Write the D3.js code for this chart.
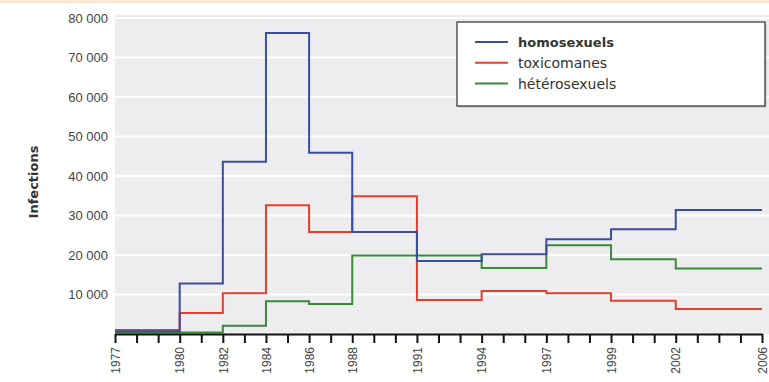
<!DOCTYPE html>
<html>
<head>
<meta charset="utf-8">
<script src="https://cdn.jsdelivr.net/npm/d3@7"></script>
<style>
  body { margin: 0; background: #fff; }
  svg { display: block; font-family: "DejaVu Sans", sans-serif; }
</style>
</head>
<body>
<svg id="chart" width="769" height="382"></svg>
<script>
// tick slots along the x axis, one per year slot (only some are labelled)
const tickLabels = ["1977","","","1980","","1982","","1984","","1986","","1988","","","1991","","","1994","","","1997","","","1999","","","2002","","","","2006"]
// period boundaries for the steps
const periods = ["1977","1980","1982","1984","1986","1988","1991","1994","1997","1999","2002","2006"]

// values per period (last period 2002-2006)
const homosexuels  = [700, 12800, 43600, 76200, 45900, 25800, 18500, 20200, 24000, 26500, 31400]
const toxicomanes  = [1000, 5300, 10300, 32600, 25800, 34900, 8600, 10900, 10300, 8400, 6300]
const heterosexuels = [300, 400, 2100, 8300, 7600, 19900, 19900, 16700, 22500, 18900, 16600]

const seriesNames = ["homosexuels", "toxicomanes", "hétérosexuels"]
const seriesColors = ["#3a4e9e", "#e2402c", "#3b8a3a"]
const yTicks = [10000, 20000, 30000, 40000, 50000, 60000, 70000, 80000]

const svg = d3.select("#chart")
const W = 769, H = 382

// plot frame
const plotLeft = 115, plotRight = 762, plotTop = 18, plotBottom = 334

svg.append("rect").attr("x", 0).attr("y", 0).attr("width", W).attr("height", 3).attr("fill", "#fce8d2")
svg.append("rect")
  .attr("x", plotLeft).attr("y", 15)
  .attr("width", W - plotLeft).attr("height", plotBottom - 15)
  .attr("fill", "#ededef")

const x = d3.scaleLinear().domain([0, tickLabels.length - 1]).range([plotLeft, plotRight])
const y = d3.scaleLinear().domain([0, 80000]).range([plotBottom, plotTop])

const fr = d3.formatLocale({decimal: ",", thousands: " ", grouping: [3], currency: ["", " €"]})
const fmt = fr.format(",")

// gridlines
svg.append("g")
  .selectAll("line")
  .data(yTicks)
  .join("line")
    .attr("x1", plotLeft).attr("x2", W)
    .attr("y1", d => y(d)).attr("y2", d => y(d))
    .attr("stroke", "#fff")
    .attr("stroke-width", 2)

// y axis labels only (no line)
const yAxis = svg.append("g")
  .attr("transform", "translate(" + plotLeft + ",0)")
  .call(d3.axisLeft(y).tickValues(yTicks).tickFormat(fmt).tickSize(0).tickPadding(7))
yAxis.select(".domain").remove()
yAxis.selectAll("text")
  .attr("fill", "#444")
  .style("font-size", "13px")

svg.append("text")
  .attr("transform", "translate(33,182) rotate(-90)")
  .attr("text-anchor", "middle")
  .attr("dy", "0.35em")
  .attr("fill", "#333")
  .style("font-size", "13px")
  .style("font-weight", "bold")
  .text("Infections")

// step lines
const line = d3.line()
  .curve(d3.curveStepAfter)
  .x(d => x(tickLabels.indexOf(d.p)))
  .y(d => y(d.v))

const allSeries = [homosexuels, toxicomanes, heterosexuels]
// draw green first, then red, then blue on top
const order = [2, 1, 0]
order.forEach(function(k) {
  const vals = allSeries[k]
  const pts = periods.map((p, i) => ({p: p, v: vals[Math.min(i, vals.length - 1)]}))
  svg.append("path")
    .attr("d", line(pts))
    .attr("fill", "none")
    .attr("stroke", seriesColors[k])
    .attr("stroke-width", 2)
})

// x axis
const xAxis = svg.append("g")
  .attr("transform", "translate(0," + plotBottom + ")")
  .call(d3.axisBottom(x).tickValues(d3.range(tickLabels.length)).tickFormat(i => tickLabels[i]).tickSize(9).tickSizeOuter(0))
xAxis.select(".domain").attr("stroke", "#111").attr("stroke-width", 2)
xAxis.selectAll(".tick line").attr("stroke", "#111").attr("stroke-width", 2)
xAxis.selectAll("text")
  .attr("fill", "#444")
  .style("font-size", "12px")
  .attr("transform", "rotate(-90)")
  .attr("text-anchor", "end")
  .attr("x", -13)
  .attr("y", 0)
  .attr("dy", "0.35em")

// legend
const lg = svg.append("g").attr("transform", "translate(457,22)")
lg.append("rect")
  .attr("x", 1.5).attr("y", 1.5).attr("width", 308).attr("height", 84)
  .attr("fill", "#bbb")
lg.append("rect")
  .attr("width", 308).attr("height", 84)
  .attr("fill", "#fff")
  .attr("stroke", "#555")
  .attr("stroke-width", 1.5)

const rows = lg.selectAll("g.row")
  .data(seriesNames)
  .join("g")
    .attr("transform", (d, i) => "translate(0," + (20 + i * 20.8) + ")")
rows.append("line")
  .attr("x1", 18).attr("x2", 51)
  .attr("stroke", (d, i) => seriesColors[i])
  .attr("stroke-width", 2)
rows.append("text")
  .attr("x", 61)
  .attr("dy", "0.35em")
  .attr("fill", "#333")
  .style("font-size", (d, i) => i === 0 ? "13px" : "14px")
  .style("font-weight", (d, i) => i === 0 ? "bold" : "normal")
  .text(d => d)
</script>
</body>
</html>
